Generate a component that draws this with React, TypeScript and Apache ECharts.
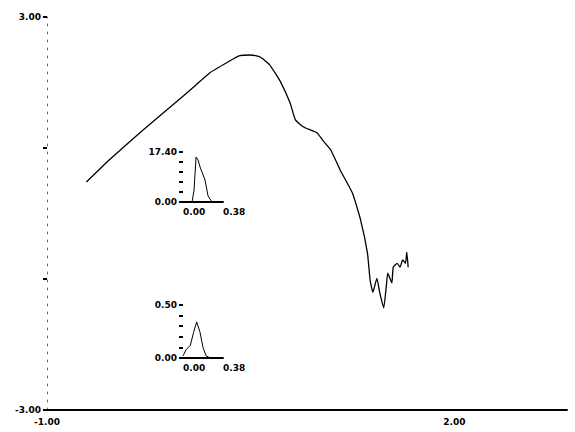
import React, { useEffect, useRef } from "react";
import * as echarts from "echarts";

// Main curve
const mainX = [-0.71, -0.54, -0.29, -0.09, 0.08, 0.2, 0.33, 0.42, 0.5, 0.57, 0.64, 0.72, 0.79, 0.83, 0.89, 0.99, 1.03, 1.09, 1.16, 1.25, 1.31, 1.36, 1.38, 1.4, 1.43, 1.45, 1.48, 1.5, 1.51, 1.54, 1.55, 1.58, 1.6, 1.62, 1.64, 1.65, 1.66];
const mainY = [0.48, 0.82, 1.28, 1.63, 1.93, 2.15, 2.31, 2.41, 2.42, 2.39, 2.27, 2.01, 1.69, 1.43, 1.32, 1.23, 1.12, 0.97, 0.66, 0.31, -0.1, -0.6, -1.02, -1.2, -0.99, -1.2, -1.44, -1.09, -0.91, -1.06, -0.82, -0.76, -0.82, -0.71, -0.76, -0.59, -0.82];

// Inset 1
const inset1X = [0.0, 0.086, 0.105, 0.124, 0.143, 0.162, 0.209, 0.238, 0.276];
const inset1Y = [0.0, 0.0, 4.18, 15.66, 14.62, 12.18, 7.66, 2.09, 0.0];

// Inset 2
const inset2X = [0.0, 0.03, 0.07, 0.1, 0.13, 0.16, 0.19, 0.22, 0.26];
const inset2Y = [0.02, 0.08, 0.12, 0.24, 0.34, 0.25, 0.1, 0.02, 0.0];

// Tick labels
const mainXTicks = [-1, 2];
const mainYTicks = [-3, 3];
const inset1YTicks = [0, 17.4];
const inset2YTicks = [0, 0.5];
const insetXTicks = [0, 0.38];

const near = (v: number, list: number[]) => list.some((t) => Math.abs(v - t) < 1e-6);
const fmt = (list: number[]) => (v: number) => (near(v, list) ? v.toFixed(2) : "");

const labelFont = {
  fontFamily: "DejaVu Sans",
  fontWeight: "bold" as const,
  fontSize: 9,
  color: "#000",
};

export default function App() {
  const ref = useRef<HTMLDivElement>(null);
  useEffect(() => {
    if (!ref.current) return;
    const chart = echarts.init(ref.current, undefined, { renderer: "svg" });
    const insetYAxis = (gridIndex: number, max: number, ticks: number[]) => ({
      type: "value",
      gridIndex,
      min: 0,
      max,
      interval: max / 5,
      axisLine: { show: false },
      axisTick: { show: true, length: 4, lineStyle: { color: "#000", width: 2 } },
      axisLabel: { ...labelFont, margin: 6, formatter: fmt(ticks) },
      splitLine: { show: false },
    });
    const insetXAxis = (gridIndex: number) => ({
      type: "value",
      gridIndex,
      min: 0,
      max: 0.38,
      interval: 0.38,
      axisLine: { show: true, lineStyle: { color: "#000", width: 2 } },
      axisTick: { show: false },
      axisLabel: { ...labelFont, margin: 5, align: "left", formatter: fmt(insetXTicks) },
      splitLine: { show: false },
    });
    chart.setOption({
      animation: false,
      backgroundColor: "#fff",
      grid: [
        { left: 47, top: 17, width: 520, height: 393 },
        { left: 183, top: 152, width: 40, height: 50 },
        { left: 183, top: 305, width: 40, height: 53 },
      ],
      xAxis: [
        {
          type: "value",
          gridIndex: 0,
          min: -1,
          max: 2.83,
          interval: 3,
          axisLine: { show: true, onZero: false, lineStyle: { color: "#000", width: 2 } },
          axisTick: { show: false },
          axisLabel: { ...labelFont, margin: 7, showMaxLabel: false, formatter: fmt(mainXTicks) },
          splitLine: { show: false },
        },
        insetXAxis(1),
        insetXAxis(2),
      ],
      yAxis: [
        {
          type: "value",
          gridIndex: 0,
          min: -3,
          max: 3,
          interval: 2,
          axisLine: { show: true, onZero: false, lineStyle: { color: "#666", width: 1, type: [2, 6] } },
          axisTick: { show: true, length: 4, lineStyle: { color: "#000", width: 2 } },
          axisLabel: { ...labelFont, margin: 6, formatter: fmt(mainYTicks) },
          splitLine: { show: false },
        },
        insetYAxis(1, 17.4, inset1YTicks),
        insetYAxis(2, 0.5, inset2YTicks),
      ],
      series: [
        {
          type: "line",
          xAxisIndex: 0,
          yAxisIndex: 0,
          data: mainX.map((x, i) => [x, mainY[i]]),
          showSymbol: false,
          smooth: 0.15,
          lineStyle: { color: "#000", width: 1.3 },
        },
        {
          type: "line",
          xAxisIndex: 1,
          yAxisIndex: 1,
          data: inset1X.map((x, i) => [x, inset1Y[i]]),
          showSymbol: false,
          lineStyle: { color: "#000", width: 1 },
        },
        {
          type: "line",
          xAxisIndex: 2,
          yAxisIndex: 2,
          data: inset2X.map((x, i) => [x, inset2Y[i]]),
          showSymbol: false,
          lineStyle: { color: "#000", width: 1 },
        },
      ],
    });
    return () => chart.dispose();
  }, []);
  return (
    <div
      ref={ref}
      style={{ position: "fixed", left: 0, top: 0, width: 575, height: 432, background: "#fff" }}
    />
  );
}
